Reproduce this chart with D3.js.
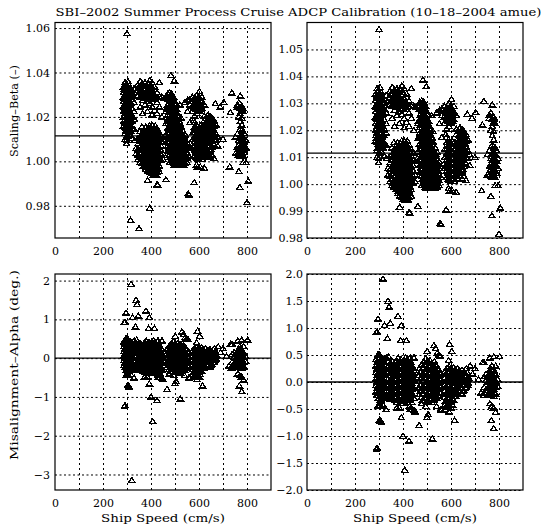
<!DOCTYPE html>
<html>
<head>
<meta charset="utf-8">
<script src="https://cdn.jsdelivr.net/npm/d3@7"></script>
<style>
  body { margin: 0; background: #fff; }
  text { font-family: "DejaVu Serif", serif; fill: #000; }
</style>
</head>
<body>
<script>
// ADCP calibration scatter: beta (scaling) and alpha (misalignment) vs ship speed

// ---- data ----
// dense clusters as columns: [ship speed, [values at that speed]]
var betaCols = [
  [286, [1.0335, 1.031, 1.029, 1.027, 1.025, 1.0225, 1.020, 1.018, 1.016]],
  [292, [1.0355, 1.032, 1.030, 1.0285, 1.026, 1.024, 1.0215, 1.019, 1.0155, 1.0125, 1.010]],
  [298, [1.0345, 1.0325, 1.0305, 1.028, 1.0265, 1.024, 1.022, 1.020, 1.0175, 1.015, 1.0095, 1.008]],
  [304, [1.036, 1.033, 1.031, 1.029, 1.027, 1.025, 1.023, 1.021, 1.019, 1.017, 1.0145, 1.0115]],
  [310, [1.034, 1.0315, 1.0295, 1.0275, 1.0255, 1.0235, 1.021, 1.019, 1.0165, 1.014, 1.012]],
  [316, [1.0325, 1.030, 1.028, 1.026, 1.0215, 1.020, 1.0185, 1.016, 1.0135]],
  [322, [1.0305, 1.028, 1.024, 1.0205, 1.018, 1.015, 1.0105]],
  [330, [1.033, 1.0265, 1.0225, 1.019, 1.0145]],
  [345, [1.0345, 1.032, 1.0295]],
  [355, [1.036, 1.0335, 1.031, 1.029, 1.0245]],
  [365, [1.035, 1.033, 1.0315, 1.0295, 1.0275, 1.0215]],
  [375, [1.0355, 1.034, 1.032, 1.030, 1.0285, 1.0255]],
  [385, [1.034, 1.0325, 1.031, 1.029, 1.027, 1.0225]],
  [395, [1.0365, 1.033, 1.031, 1.0295, 1.026]],
  [405, [1.0355, 1.032, 1.0295, 1.0245, 1.021]],
  [415, [1.0335, 1.030, 1.0285, 1.023]],
  [425, [1.031, 1.029, 1.0265, 1.0215]],
  [435, [1.0355, 1.029, 1.0245]],
  [445, [1.029, 1.020]],
  [455, [1.0285]],
  [465, [1.029, 1.0235]],
  [338, [1.006, 1.0035]],
  [346, [1.0105, 1.008, 1.0055, 1.003, 1.001]],
  [354, [1.0135, 1.011, 1.009, 1.0065, 1.004, 1.002, 0.9995]],
  [362, [1.0155, 1.012, 1.010, 1.008, 1.006, 1.004, 1.0015, 0.999]],
  [370, [1.014, 1.012, 1.0105, 1.009, 1.007, 1.005, 1.003, 1.001, 0.998]],
  [378, [1.0155, 1.0125, 1.0105, 1.0085, 1.0065, 1.0045, 1.0025, 1.0005, 0.9985, 0.9965]],
  [386, [1.014, 1.012, 1.010, 1.008, 1.006, 1.004, 1.002, 1.000, 0.998, 0.9955]],
  [394, [1.016, 1.0135, 1.0115, 1.0095, 1.0075, 1.0055, 1.0035, 1.0015, 0.9995, 0.997, 0.995]],
  [402, [1.015, 1.013, 1.011, 1.009, 1.007, 1.005, 1.003, 1.001, 0.999, 0.9965, 0.9945]],
  [410, [1.0145, 1.0125, 1.0105, 1.0085, 1.0065, 1.0045, 1.0025, 1.0005, 0.9985, 0.996, 0.994]],
  [418, [1.016, 1.013, 1.011, 1.009, 1.007, 1.005, 1.003, 1.001, 0.999, 0.9965, 0.9945]],
  [426, [1.0145, 1.012, 1.010, 1.008, 1.006, 1.004, 1.002, 1.000, 0.9975, 0.995]],
  [434, [1.013, 1.0105, 1.0085, 1.0065, 1.0045, 1.0025, 1.0005, 0.998, 0.9955]],
  [442, [1.0115, 1.009, 1.007, 1.005, 1.003, 1.0005]],
  [450, [1.0085, 1.0035, 1.001]],
  [462, [1.0225, 1.017, 1.012, 1.0085]],
  [470, [1.0305, 1.028, 1.0255, 1.0235, 1.021, 1.019, 1.017, 1.015, 1.013, 1.011, 1.009, 1.007, 1.0045]],
  [478, [1.031, 1.029, 1.027, 1.025, 1.023, 1.021, 1.019, 1.017, 1.015, 1.013, 1.011, 1.009, 1.007, 1.005, 1.003]],
  [486, [1.0305, 1.0285, 1.0265, 1.0245, 1.0225, 1.0205, 1.0185, 1.0165, 1.0145, 1.0125, 1.0105, 1.0085, 1.0065, 1.0045, 1.0025, 1.0005]],
  [494, [1.029, 1.027, 1.025, 1.023, 1.021, 1.019, 1.017, 1.015, 1.013, 1.011, 1.009, 1.007, 1.005, 1.003, 1.001, 0.999]],
  [502, [1.0255, 1.0225, 1.0205, 1.0185, 1.0165, 1.0145, 1.0125, 1.0105, 1.0085, 1.0065, 1.0045, 1.0025, 1.0005, 0.9985]],
  [510, [1.0215, 1.019, 1.017, 1.015, 1.013, 1.011, 1.009, 1.007, 1.005, 1.003, 1.001, 0.999]],
  [518, [1.018, 1.016, 1.014, 1.012, 1.010, 1.008, 1.006, 1.004, 1.002, 1.000, 0.9985]],
  [526, [1.0195, 1.0155, 1.013, 1.011, 1.009, 1.007, 1.005, 1.003, 1.001, 0.999]],
  [534, [1.0135, 1.0105, 1.0085, 1.0065, 1.0045, 1.0025, 1.0005, 0.9985]],
  [542, [1.012, 1.0095, 1.007, 1.005, 1.003, 1.001, 0.999]],
  [550, [1.0085, 1.006, 1.0035, 1.0015, 0.9995]],
  [558, [1.0065, 1.0025]],
  [540, [1.0265]],
  [552, [1.0275, 1.0225]],
  [562, [1.028, 1.0255, 1.0175]],
  [572, [1.029, 1.027, 1.025, 1.0225]],
  [582, [1.0285, 1.0265, 1.0245, 1.0205, 1.0175]],
  [592, [1.030, 1.028, 1.026, 1.024, 1.0215]],
  [602, [1.0315, 1.0285, 1.0265, 1.0245, 1.0225]],
  [612, [1.029, 1.0265, 1.024]],
  [622, [1.0255, 1.0205]],
  [574, [1.013, 1.010, 1.0065]],
  [582, [1.0155, 1.013, 1.011, 1.009, 1.007, 1.005, 1.0025]],
  [590, [1.0165, 1.014, 1.012, 1.010, 1.008, 1.006, 1.004, 1.002, 0.9985]],
  [598, [1.015, 1.013, 1.011, 1.009, 1.007, 1.005, 1.003, 1.001]],
  [606, [1.016, 1.014, 1.012, 1.010, 1.008, 1.006, 1.004, 1.002, 0.9975]],
  [614, [1.0155, 1.013, 1.011, 1.009, 1.007, 1.005, 1.003, 1.001]],
  [622, [1.0185, 1.014, 1.0115, 1.0095, 1.0075, 1.0055, 1.0035, 0.997]],
  [630, [1.0195, 1.017, 1.015, 1.013, 1.011, 1.009, 1.0065, 1.004, 1.002]],
  [638, [1.021, 1.019, 1.017, 1.015, 1.013, 1.011, 1.009, 1.0065, 1.003]],
  [646, [1.0205, 1.0185, 1.0165, 1.0145, 1.0125, 1.0105, 1.008, 1.005, 1.002]],
  [654, [1.0195, 1.0175, 1.0155, 1.0135, 1.0115, 1.0095, 1.0065, 1.003]],
  [662, [1.0185, 1.016, 1.014, 1.012, 1.010, 1.0075, 1.0015]],
  [670, [1.0165, 1.0125, 1.0095]],
  [678, [1.011, 1.007]],
  [752, [1.0035, 1.011]],
  [760, [1.0245, 1.0125, 1.0065, 1.0035]],
  [766, [1.0265, 1.020, 1.0095, 1.0075, 1.0055, 1.003, 0.9955]],
  [772, [1.0295, 1.024, 1.0215, 1.018, 1.0145, 1.0115, 1.009, 1.007, 1.005, 1.0025]],
  [778, [1.025, 1.023, 1.0195, 1.0165, 1.014, 1.012, 1.010, 1.008, 1.006, 1.004]],
  [784, [1.0225, 1.0135, 1.011, 1.009, 1.007, 1.005, 1.0025, 0.9995]],
  [790, [1.0125, 1.0085, 1.0065, 1.004]],
  [796, [1.0095, 1.006, 0.9995]]
];

// the solid black cores of the beta clusters
var betaCore = [
  [289, [1.0325, 1.0285, 1.0245, 1.0205, 1.017]],
  [295, [1.033, 1.029, 1.025, 1.0225, 1.018, 1.0135]],
  [301, [1.0335, 1.0295, 1.0255, 1.0215, 1.019, 1.016, 1.0135]],
  [307, [1.032, 1.028, 1.024, 1.020, 1.0155]],
  [313, [1.031, 1.027, 1.0225, 1.0175]],
  [350, [1.0335, 1.031]],
  [360, [1.0345, 1.032, 1.030]],
  [370, [1.034, 1.031, 1.029]],
  [380, [1.033, 1.031, 1.029]],
  [390, [1.035, 1.0305, 1.028]],
  [400, [1.034, 1.031, 1.028]],
  [410, [1.0305]],
  [366, [1.013, 1.011, 1.009, 1.007, 1.005, 1.003, 1.000]],
  [374, [1.013, 1.011, 1.008, 1.006, 1.004, 1.002, 0.9995]],
  [382, [1.0135, 1.0115, 1.0095, 1.0075, 1.0055, 1.0035, 1.0015, 0.9995, 0.9975]],
  [390, [1.015, 1.013, 1.011, 1.009, 1.007, 1.005, 1.003, 1.001, 0.999, 0.9965]],
  [398, [1.0145, 1.0125, 1.0105, 1.0085, 1.0065, 1.0045, 1.0025, 1.0005, 0.998, 0.996]],
  [406, [1.016, 1.014, 1.012, 1.010, 1.008, 1.006, 1.004, 1.002, 1.000, 0.9975, 0.995]],
  [414, [1.015, 1.012, 1.010, 1.008, 1.006, 1.004, 1.002, 1.000, 0.998, 0.9955]],
  [422, [1.0135, 1.011, 1.009, 1.007, 1.005, 1.003, 1.001, 0.999, 0.9965, 0.994]],
  [430, [1.012, 1.009, 1.007, 1.005, 1.003, 1.001, 0.999, 0.9965]],
  [474, [1.030, 1.026, 1.022, 1.018, 1.014, 1.010, 1.006]],
  [482, [1.030, 1.028, 1.026, 1.024, 1.022, 1.020, 1.018, 1.016, 1.014, 1.012, 1.010, 1.008, 1.006, 1.004, 1.002]],
  [490, [1.0295, 1.0275, 1.0255, 1.0235, 1.0215, 1.0195, 1.0175, 1.0155, 1.0135, 1.0115, 1.0095, 1.0075, 1.0055, 1.0035, 1.0015, 0.9995]],
  [498, [1.027, 1.024, 1.022, 1.020, 1.018, 1.016, 1.014, 1.012, 1.010, 1.008, 1.006, 1.004, 1.002, 1.000, 0.9985]],
  [506, [1.0235, 1.0195, 1.0175, 1.0155, 1.0135, 1.0115, 1.0095, 1.0075, 1.0055, 1.0035, 1.0015, 0.9995]],
  [514, [1.020, 1.016, 1.014, 1.012, 1.010, 1.008, 1.006, 1.004, 1.002, 1.000, 0.9985]],
  [522, [1.017, 1.013, 1.011, 1.009, 1.007, 1.005, 1.003, 1.001, 0.999]],
  [530, [1.012, 1.0095, 1.0075, 1.0055, 1.0035, 1.0015, 0.9995]],
  [538, [1.011, 1.008, 1.006, 1.004, 1.002, 1.000]],
  [546, [1.0075, 1.005, 1.002]],
  [587, [1.0275, 1.0255, 1.0235]],
  [597, [1.029, 1.027, 1.025, 1.023]],
  [607, [1.0275, 1.0255, 1.0235]],
  [586, [1.014, 1.012, 1.010, 1.008, 1.006, 1.004]],
  [594, [1.0155, 1.0135, 1.0115, 1.0095, 1.0075, 1.0055, 1.0035, 1.0015]],
  [602, [1.014, 1.012, 1.010, 1.008, 1.006, 1.004, 1.002]],
  [610, [1.015, 1.012, 1.010, 1.008, 1.006, 1.004, 1.002]],
  [634, [1.018, 1.016, 1.014, 1.012, 1.010, 1.008, 1.005]],
  [642, [1.020, 1.018, 1.016, 1.014, 1.012, 1.010, 1.007, 1.004]],
  [650, [1.019, 1.017, 1.015, 1.013, 1.011, 1.009, 1.0055]],
  [658, [1.017, 1.015, 1.013, 1.011, 1.008]],
  [775, [1.0225, 1.011, 1.009, 1.007, 1.005, 1.003]],
  [781, [1.024, 1.011, 1.009, 1.007, 1.005]]
];

// scattered single beta points [speed, beta]
var betaExtra = [
  [300, 1.0575], [483, 1.0387], [497, 1.0363], [505, 1.026], [520, 1.0255],
  [475, 1.0285], [668, 1.026], [703, 1.0266], [688, 1.0245], [737, 1.0308],
  [760, 1.0255], [731, 1.022], [700, 1.010], [728, 0.9976], [594, 0.9975],
  [622, 0.997], [477, 0.9995], [386, 0.9915], [425, 0.9895], [428, 0.9893],
  [462, 0.9918], [580, 0.9905], [555, 0.9855], [558, 0.985], [770, 0.9883],
  [805, 0.9912], [800, 0.9815], [315, 0.9735], [350, 0.9698], [395, 0.979],
  [578, 1.0185], [300, 1.0115], [332, 1.0095]
];

var alphaCols = [
  [288, [0.42, 0.30, 0.18, 0.06, -0.06, -0.18]],
  [295, [0.50, 0.36, 0.24, 0.12, 0.0, -0.12, -0.24, -0.45]],
  [302, [0.45, 0.33, 0.21, 0.09, -0.03, -0.15, -0.27, -0.40]],
  [309, [0.39, 0.27, 0.15, 0.03, -0.09, -0.21, -0.33]],
  [316, [0.43, 0.30, 0.18, 0.06, -0.06, -0.18, -0.30, -0.42]],
  [323, [0.36, 0.24, 0.12, 0.0, -0.12, -0.24]],
  [330, [0.45, 0.20, -0.05, -0.28, -0.51]],
  [338, [0.30, 0.18, 0.06, -0.06, -0.18, -0.30]],
  [347, [0.35, 0.24, 0.13, 0.02, -0.09, -0.20, -0.31]],
  [356, [0.38, 0.27, 0.16, 0.05, -0.06, -0.17, -0.28]],
  [365, [0.32, 0.21, 0.10, -0.01, -0.12, -0.23, -0.34]],
  [374, [0.40, 0.29, 0.18, 0.07, -0.04, -0.15, -0.26, -0.37, -0.48]],
  [383, [0.35, 0.24, 0.13, 0.02, -0.09, -0.20, -0.31]],
  [392, [0.42, 0.31, 0.20, 0.09, -0.02, -0.13, -0.24, -0.35]],
  [401, [0.38, 0.27, 0.16, 0.05, -0.06, -0.17, -0.28, -0.39]],
  [410, [0.45, 0.34, 0.23, 0.12, 0.01, -0.10, -0.21, -0.32]],
  [419, [0.40, 0.29, 0.18, 0.07, -0.04, -0.15, -0.26, -0.37]],
  [428, [0.44, 0.33, 0.22, 0.11, 0.0, -0.11, -0.22, -0.33, -0.44]],
  [437, [0.30, 0.19, 0.08, -0.03, -0.14, -0.25, -0.38, -0.50]],
  [446, [0.45, 0.22, 0.05, -0.12, -0.30, -0.52]],
  [468, [0.25, 0.13, 0.01, -0.11, -0.23]],
  [477, [0.32, 0.20, 0.08, -0.04, -0.16, -0.28, -0.40]],
  [486, [0.38, 0.26, 0.14, 0.02, -0.10, -0.22, -0.34]],
  [495, [0.44, 0.31, 0.19, 0.07, -0.05, -0.17, -0.29, -0.45]],
  [504, [0.36, 0.24, 0.12, 0.0, -0.12, -0.24, -0.36, -0.60]],
  [513, [0.40, 0.28, 0.16, 0.04, -0.08, -0.20, -0.32]],
  [522, [0.34, 0.22, 0.10, -0.02, -0.14, -0.26, -0.38]],
  [531, [0.38, 0.26, 0.14, 0.02, -0.10, -0.22, -0.34]],
  [540, [0.30, 0.18, 0.06, -0.06, -0.18, -0.30, -0.45]],
  [549, [0.50, 0.22, 0.10, -0.02, -0.14, -0.26]],
  [558, [0.15, 0.03, -0.09, -0.21, -0.50]],
  [574, [0.20, 0.08, -0.04, -0.16, -0.28, -0.42]],
  [583, [0.26, 0.14, 0.02, -0.10, -0.22, -0.34, -0.46]],
  [592, [0.29, 0.17, 0.05, -0.07, -0.19, -0.31, -0.43, -0.55]],
  [601, [0.24, 0.12, 0.0, -0.12, -0.24, -0.36, -0.48]],
  [610, [0.27, 0.15, 0.03, -0.09, -0.21, -0.33]],
  [619, [0.22, 0.10, -0.02, -0.14, -0.26]],
  [628, [0.25, 0.13, 0.01, -0.11, -0.23]],
  [637, [0.20, 0.08, -0.04, -0.16]],
  [646, [0.22, 0.11, 0.0, -0.11, -0.22]],
  [655, [0.17, 0.06, -0.05, -0.16]],
  [664, [0.25, 0.12, 0.01, -0.10]],
  [673, [0.08, -0.03]],
  [738, [0.36, 0.10, -0.10, -0.20]],
  [746, [0.15, 0.03, -0.15]],
  [754, [0.12, 0.0, -0.12, -0.22]],
  [762, [0.45, 0.18, 0.06, -0.06, -0.18, -0.40]],
  [770, [0.30, 0.15, 0.03, -0.09, -0.21, -0.45]],
  [778, [0.47, 0.22, 0.10, -0.02, -0.14, -0.26, -0.48]],
  [786, [0.30, 0.14, 0.02, -0.10, -0.22, -0.56]],
  [794, [0.05, -0.08]]
];

// the solid black cores of the alpha clusters
var alphaCore = [
  [291, [0.36, 0.24, 0.12, 0.0, -0.12, -0.24]],
  [298, [0.42, 0.30, 0.18, 0.06, -0.06, -0.18, -0.30]],
  [305, [0.39, 0.27, 0.15, 0.03, -0.09, -0.21, -0.33]],
  [312, [0.33, 0.21, 0.09, -0.03, -0.15, -0.27]],
  [319, [0.36, 0.24, 0.12, 0.0, -0.12, -0.24]],
  [342, [0.24, 0.12, 0.0, -0.12, -0.24]],
  [351, [0.30, 0.18, 0.07, -0.04, -0.15, -0.26]],
  [360, [0.33, 0.22, 0.11, 0.0, -0.11, -0.22]],
  [369, [0.36, 0.26, 0.15, 0.04, -0.07, -0.18, -0.29]],
  [378, [0.34, 0.23, 0.12, 0.01, -0.10, -0.21, -0.32]],
  [387, [0.38, 0.29, 0.18, 0.07, -0.04, -0.15, -0.26]],
  [396, [0.36, 0.25, 0.14, 0.03, -0.08, -0.19, -0.30]],
  [405, [0.40, 0.31, 0.20, 0.09, -0.02, -0.13, -0.24, -0.35]],
  [414, [0.39, 0.28, 0.17, 0.06, -0.05, -0.16, -0.27]],
  [423, [0.35, 0.24, 0.13, 0.02, -0.09, -0.20, -0.31]],
  [432, [0.37, 0.26, 0.15, 0.04, -0.07, -0.18, -0.29]],
  [441, [0.25, 0.13, 0.01, -0.11, -0.23]],
  [472, [0.19, 0.07, -0.05, -0.17]],
  [481, [0.26, 0.14, 0.02, -0.10, -0.22, -0.34]],
  [490, [0.32, 0.20, 0.08, -0.04, -0.16, -0.28]],
  [499, [0.37, 0.25, 0.13, 0.01, -0.11, -0.23, -0.35]],
  [508, [0.30, 0.18, 0.06, -0.06, -0.18, -0.30]],
  [517, [0.34, 0.22, 0.10, -0.02, -0.14, -0.26]],
  [526, [0.28, 0.16, 0.04, -0.08, -0.20, -0.32]],
  [535, [0.32, 0.20, 0.08, -0.04, -0.16, -0.28]],
  [544, [0.24, 0.12, 0.0, -0.12, -0.24]],
  [553, [0.16, 0.04, -0.08, -0.20]],
  [578, [0.14, 0.02, -0.10, -0.22, -0.35]],
  [587, [0.20, 0.08, -0.04, -0.16, -0.28, -0.40]],
  [596, [0.23, 0.11, -0.01, -0.13, -0.25, -0.37]],
  [605, [0.18, 0.06, -0.06, -0.18, -0.30, -0.42]],
  [614, [0.21, 0.09, -0.03, -0.15, -0.27]],
  [623, [0.16, 0.04, -0.08, -0.20]],
  [632, [0.19, 0.07, -0.05, -0.17]],
  [641, [0.14, 0.02, -0.10]],
  [650, [0.16, 0.05, -0.06, -0.17]],
  [659, [0.11, 0.0, -0.11]],
  [668, [0.18, 0.06, -0.05]],
  [758, [0.12, 0.0, -0.12]],
  [766, [0.24, 0.12, 0.0, -0.12, -0.24]],
  [774, [0.21, 0.09, -0.03, -0.15]],
  [782, [0.16, 0.04, -0.08, -0.20]]
];

var alphaExtra = [
  [317, 1.91], [338, 1.50], [342, 1.39], [379, 1.22], [296, 1.17], [323, 1.05],
  [347, 1.09], [393, 1.05], [292, 0.93], [289, 0.92], [335, 0.81], [390, 0.77],
  [414, 0.77], [300, 0.52], [340, 0.47], [430, 0.45], [445, 0.45], [380, 0.45],
  [501, 0.57], [529, 0.68], [543, 0.54], [555, 0.48], [536, 0.62], [594, 0.70],
  [603, 0.57], [590, 0.40], [680, 0.30], [700, 0.25], [690, 0.15], [715, 0.05],
  [803, 0.47], [731, 0.36], [725, -0.20], [735, -0.25],
  [768, -0.71], [778, -0.86], [786, -0.56], [615, -0.71], [575, -0.50], [560, -0.52],
  [500, -0.65], [505, -0.60], [450, -0.55], [430, -0.50], [385, -0.48], [329, -0.51],
  [303, -0.44], [303, -0.70], [307, -0.72], [310, -0.75], [393, -0.66],
  [289, -1.25], [292, -1.22], [400, -1.0], [425, -1.09], [467, -0.80], [522, -1.05],
  [407, -1.63], [320, -3.15]
];

var betaMean = 1.0115;
var alphaMean = 0.0;

// ticks
var speedLabels = [0, 200, 400, 600, 800];
var speedGrid = [100, 200, 300, 400, 500, 600, 700, 800];
var betaTicksL = [0.98, 1.00, 1.02, 1.04, 1.06];
var betaTicksR = [0.98, 0.99, 1.00, 1.01, 1.02, 1.03, 1.04, 1.05];
var alphaTicksL = [-3, -2, -1, 0, 1, 2];
var alphaTicksR = [-2.0, -1.5, -1.0, -0.5, 0.0, 0.5, 1.0, 1.5, 2.0];

// flatten the column lists into [speed, value] points
function flatten(cols, extra) {
  var pts = [];
  cols.forEach(function(c) {
    c[1].forEach(function(v) { pts.push([c[0], v]); });
  });
  return pts.concat(extra);
}
var betaPts = flatten(betaCols.concat(betaCore), betaExtra);
var alphaPts = flatten(alphaCols.concat(alphaCore), alphaExtra);

var svg = d3.select("body").append("svg")
  .attr("width", 544)
  .attr("height", 528);

svg.append("rect").attr("width", 544).attr("height", 528).attr("fill", "#fff");

// panels: position, y domain, ticks, format
var panels = [
  {id: "tl", x0: 55, x1: 271, y0: 22.5, y1: 238, dom: [0.9655, 1.0625], ticks: betaTicksL,
   fmt: d3.format(".2f"), pts: betaPts, mean: betaMean, pad: 5},
  {id: "tr", x0: 307, x1: 523, y0: 22.5, y1: 238, dom: [0.98, 1.06], ticks: betaTicksR,
   fmt: d3.format(".2f"), pts: betaPts, mean: betaMean, pad: 4},
  {id: "bl", x0: 55, x1: 271, y0: 274, y1: 490, dom: [-3.4, 2.17], ticks: alphaTicksL,
   fmt: d3.format("d"), pts: alphaPts, mean: alphaMean, pad: 5},
  {id: "br", x0: 307, x1: 523, y0: 274, y1: 490, dom: [-2, 2], ticks: alphaTicksR,
   fmt: d3.format(".1f"), pts: alphaPts, mean: alphaMean, pad: 4}
];

var tri = "M0,-2.8L3.2,2.2L-3.2,2.2Z";

panels.forEach(function(p) {
  var x = d3.scaleLinear().domain([0, 900]).range([p.x0, p.x1]);
  var y = d3.scaleLinear().domain(p.dom).range([p.y1, p.y0]);
  var w = p.x1 - p.x0, h = p.y1 - p.y0;

  svg.append("clipPath").attr("id", "clip-" + p.id)
    .append("rect").attr("x", p.x0).attr("y", p.y0).attr("width", w).attr("height", h);

  // dotted grid
  var gx = svg.append("g")
    .attr("transform", "translate(0," + p.y1 + ")")
    .call(d3.axisBottom(x).tickValues(speedGrid).tickSize(-h).tickFormat(""));
  gx.select(".domain").remove();
  gx.selectAll("line").attr("stroke", "#000").attr("stroke-dasharray", "2,3");

  var gy = svg.append("g")
    .attr("transform", "translate(" + p.x0 + ",0)")
    .call(d3.axisLeft(y).tickValues(p.ticks).tickSize(-w).tickFormat(""));
  gy.select(".domain").remove();
  gy.selectAll("line").attr("stroke", "#000").attr("stroke-dasharray", "2,2.5");

  // tick labels
  var lx = svg.append("g")
    .attr("transform", "translate(0," + p.y1 + ")")
    .call(d3.axisBottom(x).tickValues(speedLabels).tickSize(0).tickPadding(9));
  lx.select(".domain").remove();
  lx.selectAll("text").attr("font-family", "DejaVu Serif").attr("font-size", 11);

  var ly = svg.append("g")
    .attr("transform", "translate(" + p.x0 + ",0)")
    .call(d3.axisLeft(y).tickValues(p.ticks).tickSize(0).tickPadding(p.pad)
      .tickFormat(function(d) { return p.fmt(d).replace("-", "\u2212"); }));
  ly.select(".domain").remove();
  ly.selectAll("text").attr("font-family", "DejaVu Serif").attr("font-size", 11);

  // points
  svg.append("g").attr("clip-path", "url(#clip-" + p.id + ")")
    .selectAll("path")
    .data(p.pts)
    .enter()
    .append("path")
    .attr("d", tri)
    .attr("transform", function(d) { return "translate(" + x(d[0]) + "," + y(d[1]) + ")"; })
    .attr("fill", "none")
    .attr("stroke", "#000")
    .attr("stroke-width", 1.3)
    .attr("shape-rendering", "crispEdges");

  // mean line
  svg.append("line")
    .attr("x1", p.x0).attr("x2", p.x1)
    .attr("y1", y(p.mean)).attr("y2", y(p.mean))
    .attr("stroke", "#000").attr("stroke-width", 1.3);

  // frame
  svg.append("rect")
    .attr("x", p.x0).attr("y", p.y0).attr("width", w).attr("height", h)
    .attr("fill", "none").attr("stroke", "#000").attr("stroke-width", 1.2);
});

// title and axis labels
svg.append("text")
  .attr("x", 298.5).attr("y", 16)
  .attr("text-anchor", "middle")
  .attr("font-size", 11.5)
  .attr("textLength", 486).attr("lengthAdjust", "spacingAndGlyphs")
  .text("SBI\u20132002 Summer Process Cruise ADCP Calibration (10\u201318\u20132004 amue)");

[163, 415].forEach(function(cx) {
  svg.append("text")
    .attr("x", cx).attr("y", 522)
    .attr("text-anchor", "middle")
    .attr("font-size", 11.5)
    .attr("textLength", 124).attr("lengthAdjust", "spacingAndGlyphs")
    .text("Ship Speed (cm/s)");
});

svg.append("text")
  .attr("transform", "translate(18,111) rotate(-90)")
  .attr("text-anchor", "middle")
  .attr("font-size", 11.5)
  .attr("textLength", 92).attr("lengthAdjust", "spacingAndGlyphs")
  .text("Scaling\u2013Beta (\u2013)");

svg.append("text")
  .attr("transform", "translate(18,365) rotate(-90)")
  .attr("text-anchor", "middle")
  .attr("font-size", 11.5)
  .attr("textLength", 190).attr("lengthAdjust", "spacingAndGlyphs")
  .text("Misalignment\u2013Alpha (deg.)");
</script>
</body>
</html>
